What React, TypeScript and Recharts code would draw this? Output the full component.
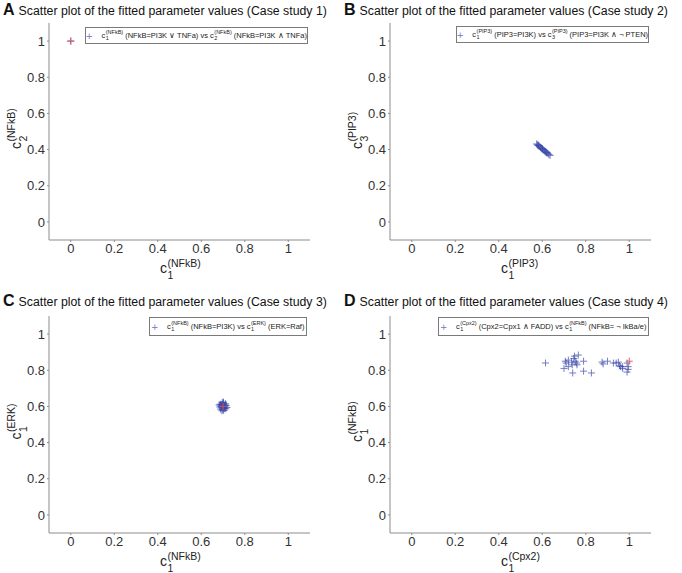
import React from "react";
import { Legend, Scatter, ScatterChart, XAxis, YAxis } from "recharts";

const ticks = [0, 0.2, 0.4, 0.6, 0.8, 1];
const tickLabels = ["0", "0.2", "0.4", "0.6", "0.8", "1"];

// case study 1
const case1X = [0];
const case1Y = [1];
const case1TrueX = [0];
const case1TrueY = [1];

// case study 2
const case2X = [0.574, 0.578, 0.581, 0.585, 0.589, 0.592, 0.596, 0.599, 0.603, 0.607, 0.611, 0.614, 0.618, 0.622, 0.627, 0.631, 0.636, 0.583, 0.601, 0.619];
const case2Y = [0.431, 0.426, 0.424, 0.419, 0.416, 0.411, 0.408, 0.404, 0.401, 0.396, 0.393, 0.388, 0.386, 0.381, 0.377, 0.372, 0.368, 0.424, 0.405, 0.384];

// case study 3
const case3X = [0.700, 0.692, 0.708, 0.685, 0.715, 0.697, 0.703, 0.689, 0.711, 0.694, 0.706, 0.699, 0.682, 0.718, 0.701, 0.693, 0.709, 0.687, 0.713, 0.698, 0.704, 0.695, 0.702, 0.690, 0.710];
const case3Y = [0.600, 0.611, 0.589, 0.597, 0.606, 0.622, 0.578, 0.585, 0.615, 0.593, 0.603, 0.582, 0.608, 0.594, 0.617, 0.604, 0.598, 0.612, 0.587, 0.609, 0.591, 0.576, 0.624, 0.601, 0.607];
const case3TrueX = [0.7];
const case3TrueY = [0.6];

// case study 4
const case4X = [0.615, 0.706, 0.72, 0.748, 0.766, 0.752, 0.79, 0.70, 0.72, 0.738, 0.76, 0.74, 0.79, 0.826, 0.71, 0.757, 0.875, 0.90, 0.88, 0.927, 0.94, 0.95, 0.96, 0.968, 0.99, 0.995, 0.99, 0.995, 0.97, 0.745, 0.735, 0.955];
const case4Y = [0.84, 0.85, 0.856, 0.878, 0.884, 0.85, 0.85, 0.81, 0.82, 0.83, 0.83, 0.785, 0.795, 0.785, 0.84, 0.84, 0.845, 0.85, 0.835, 0.84, 0.84, 0.845, 0.82, 0.82, 0.84, 0.82, 0.79, 0.805, 0.81, 0.865, 0.845, 0.825];
const case4TrueX = [1];
const case4TrueY = [0.85];

const zip = (xs: number[], ys: number[]) => xs.map((x, i) => ({ x, y: ys[i] }));

const FONT = "'Liberation Sans', Arial, sans-serif";
const AXIS = "#8c8c8c";

const Plus = (color: string, opacity: number) => (p: any) => (
  <g stroke={color} strokeWidth={1} opacity={opacity}>
    <line x1={p.cx - 3.5} y1={p.cy} x2={p.cx + 3.5} y2={p.cy} />
    <line x1={p.cx} y1={p.cy - 3.5} x2={p.cx} y2={p.cy + 3.5} />
  </g>
);

function CLabel(props: { x: number; y: number; sub: string; sup: string; rotate?: boolean }) {
  const { x, y, sub, sup, rotate } = props;
  const start = -(8 + sup.length * 5.2) / 2;
  return (
    <g transform={`translate(${x},${y})${rotate ? " rotate(-90)" : ""}`} fontFamily={FONT} fill="#222">
      <text x={start} y={5} fontSize={14}>c</text>
      <text x={start + 7.5} y={-1} fontSize={10.5}>{sup}</text>
      <text x={start + 7.5} y={11} fontSize={10.5}>{sub}</text>
    </g>
  );
}

function Stack(props: { sub: string; sup: string }) {
  return (
    <span style={{ display: "inline-flex", flexDirection: "column", fontSize: 5.5, lineHeight: 1, margin: "0 2px 0 0.5px", verticalAlign: "middle" }}>
      <span>{props.sup}</span>
      <span>{props.sub}</span>
    </span>
  );
}

function LegendBox(props: { width: number; height: number; parts: React.ReactNode }) {
  return (
    <div
      style={{
        width: props.width,
        height: props.height,
        boxSizing: "border-box",
        border: "1px solid #7a7a7a",
        background: "#fff",
        fontFamily: FONT,
        fontSize: 7.5,
        color: "#222",
        display: "flex",
        alignItems: "center",
        justifyContent: "center",
        whiteSpace: "nowrap",
      }}
    >
      <span style={{ color: "#8088c8", fontSize: 11, marginRight: 9 }}>+</span>
      {props.parts}
    </div>
  );
}

type PanelProps = {
  left: number;
  top: number;
  height: number;
  plotTop: number;
  plotBottom: number;
  titleTop: number;
  letter: string;
  title: string;
  xLabel: [string, string];
  yLabel: [string, string];
  legend: { left: number; top: number; width: number; height: number; parts: React.ReactNode };
  fit: { x: number; y: number }[];
  truth: { x: number; y: number }[];
};

function Panel(p: PanelProps) {
  return (
    <div style={{ position: "absolute", left: p.left, top: p.top, width: 341, height: p.height }}>
      <div style={{ position: "absolute", left: 3, top: p.titleTop, fontFamily: FONT, whiteSpace: "nowrap", color: "#111" }}>
        <span style={{ fontSize: 16, fontWeight: "bold", marginRight: 4 }}>{p.letter}</span>
        <span style={{ fontSize: 12.3 }}>{p.title}</span>
      </div>
      <ScatterChart
        width={341}
        height={p.height}
        margin={{ top: p.plotTop, right: 31, left: 0, bottom: p.height - p.plotBottom - 30 }}
        style={{ position: "absolute", left: 0, top: 0 }}
      >
        <XAxis
          type="number"
          dataKey="x"
          domain={[-0.1, 1.1]}
          ticks={ticks}
          tickFormatter={(v: number) => tickLabels[ticks.indexOf(v)] ?? String(v)}
          height={30}
          tickSize={2}
          stroke={AXIS}
          tick={{ fill: "#333", fontSize: 13, fontFamily: FONT }}
          label={(lp: any) => (
            <CLabel x={lp.viewBox.x + lp.viewBox.width / 2} y={lp.viewBox.y + 28} sub={p.xLabel[0]} sup={p.xLabel[1]} />
          )}
        />
        <YAxis
          type="number"
          dataKey="y"
          domain={[-0.1, 1.1]}
          ticks={ticks}
          tickFormatter={(v: number) => tickLabels[ticks.indexOf(v)] ?? String(v)}
          width={49}
          tickSize={2}
          stroke={AXIS}
          tick={{ fill: "#333", fontSize: 13, fontFamily: FONT }}
          label={(lp: any) => (
            <CLabel x={16} y={lp.viewBox.y + lp.viewBox.height / 2 - 2} sub={p.yLabel[0]} sup={p.yLabel[1]} rotate />
          )}
        />
        <Legend
          layout="horizontal"
          verticalAlign="middle"
          align="center"
          wrapperStyle={{ left: p.legend.left, top: p.legend.top, width: p.legend.width }}
          content={() => <LegendBox width={p.legend.width} height={p.legend.height} parts={p.legend.parts} />}
        />
        <Scatter data={p.fit} shape={Plus("#3a48a8", 0.7)} isAnimationActive={false} />
        <Scatter data={p.truth} shape={Plus("#e0505a", 0.9)} isAnimationActive={false} legendType="none" />
      </ScatterChart>
    </div>
  );
}

export default function App() {
  return (
    <div style={{ position: "absolute", left: 0, top: 0, width: 682, height: 573, background: "#fff" }}>
      <Panel
        left={0}
        top={0}
        height={286}
        plotTop={23}
        plotBottom={240}
        titleTop={1}
        letter="A"
        title="Scatter plot of the fitted parameter values (Case study 1)"
        xLabel={["1", "(NFkB)"]}
        yLabel={["2", "(NFkB)"]}
        legend={{
          left: 85,
          top: 27,
          width: 223,
          height: 17,
          parts: (
            <>
              c<Stack sub="1" sup="(NFkB)" />(NFkB=PI3K ∨ TNFa) vs c<Stack sub="2" sup="(NFkB)" />(NFkB=PI3K ∧ TNFa)
            </>
          ),
        }}
        fit={zip(case1X, case1Y)}
        truth={zip(case1TrueX, case1TrueY)}
      />
      <Panel
        left={341}
        top={0}
        height={286}
        plotTop={23}
        plotBottom={240}
        titleTop={1}
        letter="B"
        title="Scatter plot of the fitted parameter values (Case study 2)"
        xLabel={["1", "(PIP3)"]}
        yLabel={["3", "(PIP3)"]}
        legend={{
          left: 115,
          top: 26,
          width: 193,
          height: 17,
          parts: (
            <>
              c<Stack sub="1" sup="(PIP3)" />(PIP3=PI3K) vs c<Stack sub="3" sup="(PIP3)" />(PIP3=PI3K ∧ ¬ PTEN)
            </>
          ),
        }}
        fit={zip(case2X, case2Y)}
        truth={[]}
      />
      <Panel
        left={0}
        top={286}
        height={287}
        plotTop={30}
        plotBottom={247}
        titleTop={6}
        letter="C"
        title="Scatter plot of the fitted parameter values (Case study 3)"
        xLabel={["1", "(NFkB)"]}
        yLabel={["1", "(ERK)"]}
        legend={{
          left: 149,
          top: 31,
          width: 158,
          height: 19,
          parts: (
            <>
              c<Stack sub="1" sup="(NFkB)" />(NFkB=PI3K) vs c<Stack sub="1" sup="(ERK)" />(ERK=Raf)
            </>
          ),
        }}
        fit={zip(case3X, case3Y)}
        truth={zip(case3TrueX, case3TrueY)}
      />
      <Panel
        left={341}
        top={286}
        height={287}
        plotTop={30}
        plotBottom={247}
        titleTop={6}
        letter="D"
        title="Scatter plot of the fitted parameter values (Case study 4)"
        xLabel={["1", "(Cpx2)"]}
        yLabel={["1", "(NFkB)"]}
        legend={{
          left: 97,
          top: 31,
          width: 211,
          height: 19,
          parts: (
            <>
              c<Stack sub="1" sup="(Cpx2)" />(Cpx2=Cpx1 ∧ FADD) vs c<Stack sub="1" sup="(NFkB)" />(NFkB= ¬ IkBa/e)
            </>
          ),
        }}
        fit={zip(case4X, case4Y)}
        truth={zip(case4TrueX, case4TrueY)}
      />
    </div>
  );
}
